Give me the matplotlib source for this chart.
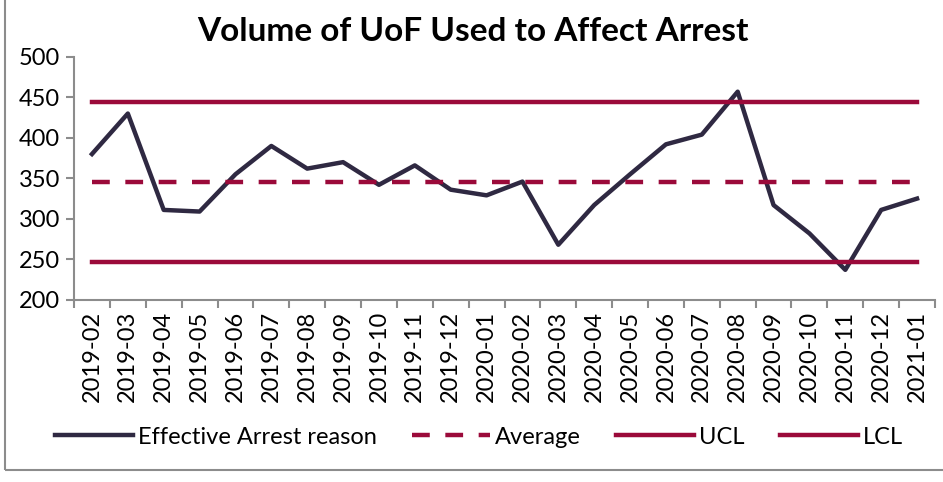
import matplotlib.pyplot as plt
from matplotlib.patches import Rectangle

months = ["2019-02", "2019-03", "2019-04", "2019-05", "2019-06", "2019-07",
          "2019-08", "2019-09", "2019-10", "2019-11", "2019-12", "2020-01",
          "2020-02", "2020-03", "2020-04", "2020-05", "2020-06", "2020-07",
          "2020-08", "2020-09", "2020-10", "2020-11", "2020-12", "2021-01"]
arrests = [380, 430, 311, 309, 355, 390, 362, 370, 342, 366, 336, 329,
           346, 268, 317, 355, 392, 404, 457, 317, 282, 237, 311, 325]
average = 345
ucl = 444
lcl = 247

plt.rcParams['font.family'] = ['Lato', 'DejaVu Sans']

fig = plt.figure(figsize=(9.43, 4.82), dpi=100)
ax = fig.add_axes([0.0785, 0.378, 0.913, 0.504])

# border around the chart
fig.patches.append(Rectangle((0.005, 0.025), 1.2, 1.2, transform=fig.transFigure,
                             fill=False, edgecolor="#8c8c8c", linewidth=1.5))

x = list(range(len(months)))
dark = "#2f2942"
red = "#9b0a3a"
ax.plot(x, arrests, color=dark, linewidth=3.2, label="Effective Arrest reason")
ax.plot(x, [average] * len(x), color=red, linewidth=3.2, linestyle=(0, (4, 3.5)),
        label="Average")
ax.plot(x, [ucl] * len(x), color=red, linewidth=3.2, label="UCL")
ax.plot(x, [lcl] * len(x), color=red, linewidth=3.2, label="LCL")

ax.set_xlim(-0.5, len(x) - 0.5)
ax.set_ylim(200, 500)
ax.set_yticks([200, 250, 300, 350, 400, 450, 500])
ax.set_xticks(x)
ax.set_xticklabels(months, rotation=90, fontsize=17)
ax.set_xticks([i - 0.5 for i in range(len(x) + 1)], minor=True)
ax.tick_params(axis="x", which="major", length=0, pad=8)
ax.tick_params(axis="x", which="minor", length=6, color="#8c8c8c", width=1.5)
ax.tick_params(axis="y", labelsize=17, length=6, color="#8c8c8c", width=1.5, pad=4)

for s in ["top", "right"]:
    ax.spines[s].set_visible(False)
for s in ["left", "bottom"]:
    ax.spines[s].set_color("#8c8c8c")
    ax.spines[s].set_linewidth(1.5)

fig.text(0.502, 0.935, "Volume of UoF Used to Affect Arrest", fontsize=24,
         fontweight="bold", ha="center", va="center")

fig.legend(loc="center", bbox_to_anchor=(0.508, 0.093), ncol=4, frameon=False,
           fontsize=17, handlelength=3.3, columnspacing=1.5, handletextpad=0.2)

fig.savefig("out.png", dpi=100)
